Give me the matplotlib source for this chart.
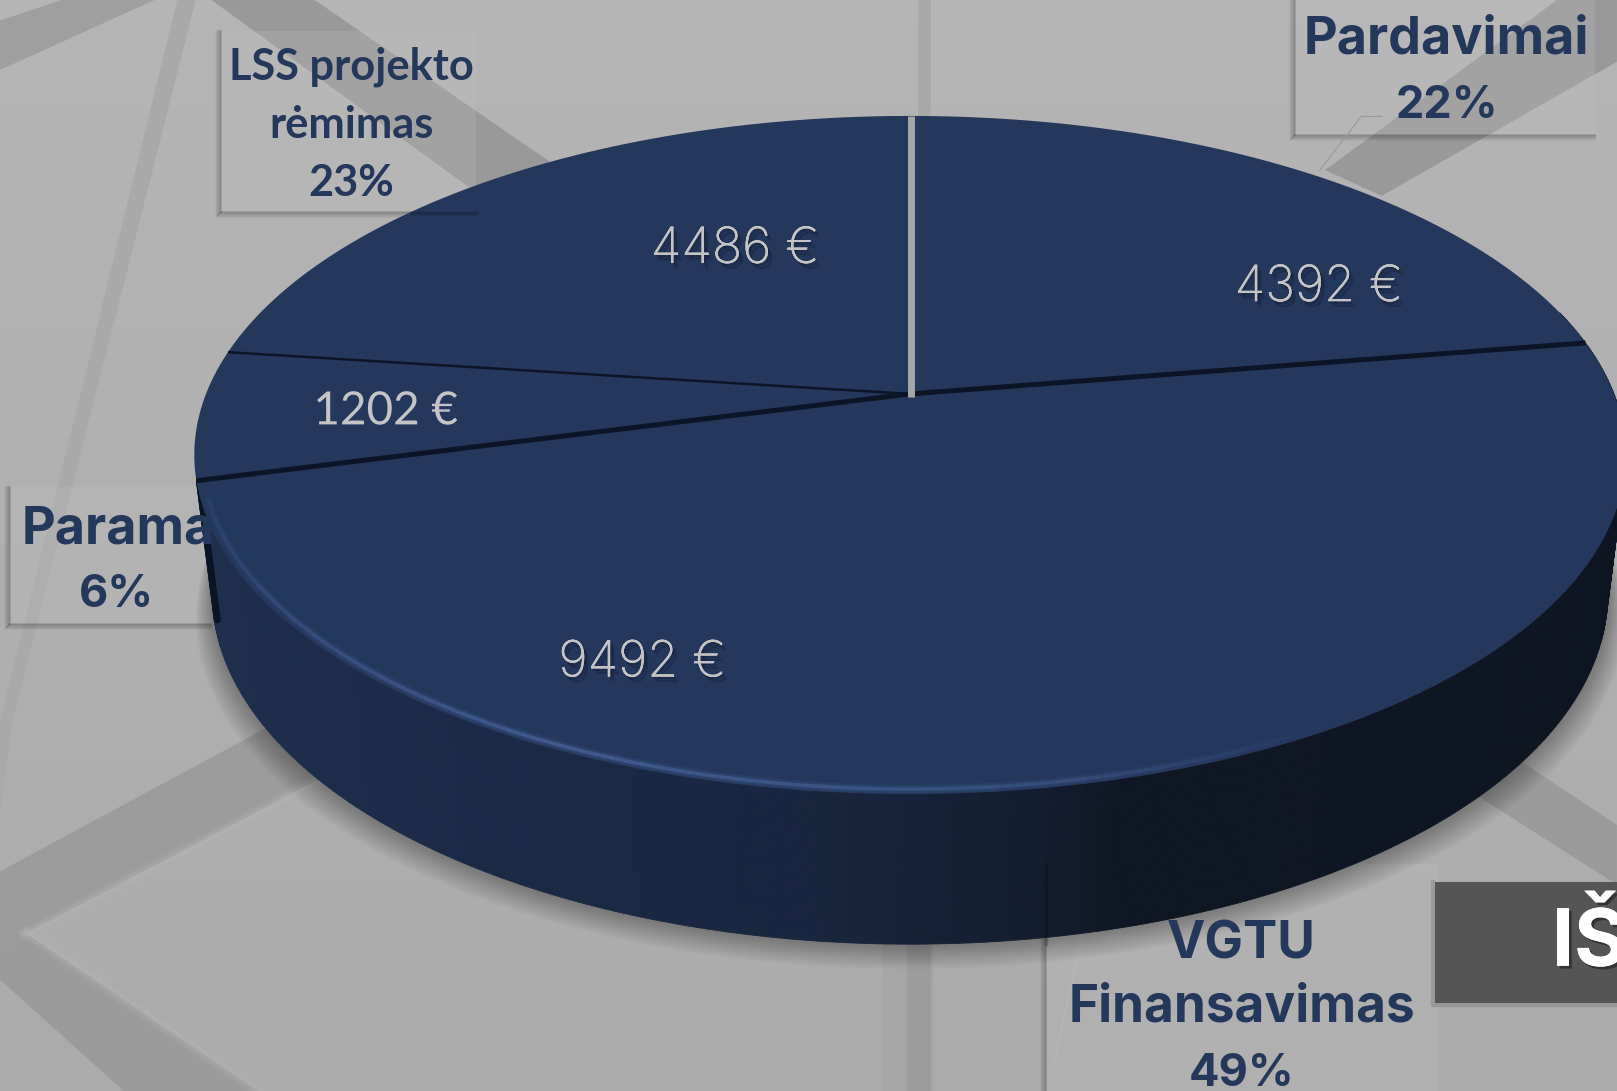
import numpy as np
import matplotlib
matplotlib.use("Agg")
import matplotlib.pyplot as plt
import matplotlib.patheffects as pe
from matplotlib.collections import PolyCollection, LineCollection
from matplotlib.colors import LinearSegmentedColormap

# Slices, clockwise from the top of the pie
names = ["Pardavimai", "VGTU\nFinansavimas", "Parama", "LSS projekto\nrėmimas"]
values = [4392, 9492, 1202, 4486]
percents = ["22%", "49%", "6%", "23%"]
value_labels = ["4392 €", "9492 €", "1202 €", "4486 €"]

NAVY = "#24385c"
W, H = 1617, 1091

fig = plt.figure(figsize=(W / 100, H / 100 + 0.001), dpi=100)
ax = fig.add_axes([0, 0, 1, 1])
ax.axis("off")

# Perspective of the pie top (angles in degrees, clockwise from top)
CX, CY, A, B, K = 910, 394, 704, 328, 0.18
DEPTH = 136


def top(theta, r=1.0):
    t = np.radians(theta)
    u, v = r * np.sin(t), r * np.cos(t)
    w = 1 + K * v
    return CX + A * u / w, CY - B * v / w


def bottom(theta):
    t = np.radians(theta)
    u, v = np.sin(t), np.cos(t)
    w = 1 + K * v
    return CX + 0.975 * A * u / w, CY - B * v / w + DEPTH / np.sqrt(w)


# background
ax.imshow(np.linspace(0, 1, 50).reshape(-1, 1), extent=(0, W, H, 0), aspect="auto",
          cmap=LinearSegmentedColormap.from_list("bg", ["#b5b5b5", "#ababab"]), zorder=0)
ax.set_xlim(0, W)
ax.set_ylim(H, 0)

s = 1.0312  # positions below were read on the shrunk picture
bands = [
    ([(0, 20), (60, 0), (150, 0), (0, 68)], "#9f9f9f"),
    ([(172, 0), (190, 0), (12, 700), (0, 790), (0, 700)], "#a9a9a9"),
    ([(205, 0), (305, 0), (545, 165), (480, 200)], "#999999"),
    ([(890, 0), (903, 0), (903, 120), (890, 120)], "#a9a9a9"),
    ([(1285, 165), (1510, 0), (1568, 0), (1568, 60), (1340, 190)], "#999999"),
    ([(0, 845), (260, 705), (320, 750), (25, 905), (0, 925)], "#9c9c9c"),
    ([(25, 905), (250, 1058), (120, 1058), (0, 950), (0, 925)], "#9b9b9b"),
    ([(1470, 735), (1568, 800), (1568, 858), (1430, 770)], "#9b9b9b"),
    ([(855, 900), (905, 900), (905, 1058), (855, 1058)], "#a6a6a6"),
    ([(880, 900), (903, 900), (903, 1058), (880, 1058)], "#9d9d9d"),
]
for pts, col in bands:
    ax.fill(*zip(*[(x * s, y * s) for x, y in pts]), color=col, lw=0, zorder=1)
for lw, alpha in [(9, 0.12), (5, 0.2)]:
    ax.plot([25 * s, 305 * s], [905 * s, 758 * s], color="#bababa", lw=lw, alpha=alpha, zorder=1)
    ax.plot([25 * s, 250 * s], [905 * s, 1058 * s], color="#bababa", lw=lw, alpha=alpha, zorder=1)

# label boxes, left and bottom edges carry the shadow
boxes = [(1256, 0, 1547, 131), (1014, 838, 1395, 1070), (10, 472, 205, 605), (214, 30, 462, 206)]
for x0, y0, x1, y1 in boxes:
    x0, y0, x1, y1 = x0 * s, y0 * s, x1 * s, y1 * s
    ax.fill([x0, x1, x1, x0], [y0, y0, y1, y1], color="#c4c4c4", alpha=0.22, lw=0, zorder=2)
    for i in range(6):
        ax.plot([x0 - i, x0 - i], [y0, y1 + i], color="k", alpha=0.16 - i * 0.025, lw=1.2, zorder=2)
        ax.plot([x0 - i, x1], [y1 + i, y1 + i], color="k", alpha=0.16 - i * 0.025, lw=1.2, zorder=2)

ax.plot([1340 * s, 1320 * s, 1280 * s], [113 * s, 113 * s, 165 * s], color="#999999", lw=0.8, zorder=2)
ax.plot([1050 * s, 1022 * s], [905 * s, 1030 * s], color="#b8b8b8", lw=0.8, zorder=2)

# angles of slice borders from the values
edges = np.concatenate([[0], np.cumsum(values)]) / np.sum(values) * 360

# soft shadow under the pie
around = np.linspace(0, 360, 361)
bx, by = bottom(around)
for i in range(14):
    f = 1 + i * 0.0018
    ax.fill(CX + (bx - CX) * f, by + i * 1.9, color="k", alpha=0.022, lw=0, zorder=3)

# side wall: from the left seam round the front to the right
side_cmap = LinearSegmentedColormap.from_list(
    "side", [(0, "#0c1420"), (0.5, "#0f1724"), (0.53, "#131d30"), (0.62, "#18263f"),
             (0.8, "#1b2b48"), (1, "#1f3050")])
side_angles = np.linspace(75, edges[2], 260)
strips = []
for a0, a1 in zip(side_angles[:-1], side_angles[1:]):
    t0, t1 = top(a0), top(a1)
    b0, b1 = bottom(a0), bottom(a1)
    strips.append([t0, t1, b1, b0])
frac = np.linspace(0, 1, len(strips))
ax.add_collection(PolyCollection(strips, facecolors=side_cmap(frac), edgecolors=side_cmap(frac),
                                 linewidths=0.6, zorder=4))

# dark cut face at the left seam
seam_t, seam_b = top(edges[2]), bottom(edges[2])
ax.plot([seam_t[0] + 3, seam_b[0] + 3], [seam_t[1], seam_b[1]], color="#0b1424", lw=5,
        solid_capstyle="round", zorder=5)

# top face, one polygon per slice
for a0, a1 in zip(edges[:-1], edges[1:]):
    th = np.linspace(a0, a1, 200)
    x, y = top(th)
    ax.fill(np.r_[CX, x], np.r_[CY, y], color=NAVY, lw=0, zorder=6)

# rim highlight along the front of the big slice, with a soft glow
rim_angles = np.linspace(edges[2] - 3, 115, 240)
rx, ry = top(rim_angles, 0.99)
segs = np.stack([np.c_[rx[:-1], ry[:-1]], np.c_[rx[1:], ry[1:]]], axis=1)
rim_cmap = LinearSegmentedColormap.from_list(
    "rim", [(0, "#2a4269"), (0.35, "#405a8e"), (0.6, "#344e7a"), (0.75, "#24385c"), (1, "#24385c")])
rim_colors = rim_cmap(np.linspace(0, 1, len(segs)))
ax.add_collection(LineCollection(segs, colors=rim_colors, linewidths=6, alpha=0.3, zorder=7))
ax.add_collection(LineCollection(segs, colors=rim_colors, linewidths=2.6, zorder=7))

# slice borders
for a in edges[1:3]:
    x, y = top(a)
    ax.plot([CX, x], [CY, y], color="#0b1526", lw=3.6, zorder=8, solid_capstyle="butt")
x, y = top(edges[3])
ax.plot([CX, x], [CY, y], color="#0b1526", lw=1.8, zorder=8, solid_capstyle="butt")
x, y = top(0.0)
ax.plot([CX + 0.5, x + 0.5], [CY + 3, y], color="#a6a6a6", lw=5, zorder=9, solid_capstyle="butt")

# shadow of the box edges falling on the pie
ax.plot([400 * s, 462 * s], [207 * s, 207 * s], color="k", alpha=0.2, lw=2.5, zorder=9)
ax.plot([1014 * s, 1014 * s], [838 * s, 915 * s], color="k", alpha=0.2, lw=2.5, zorder=9)

# names and percentages
name_style = dict(ha="center", va="center", color=NAVY, fontweight="bold", zorder=12, linespacing=1.38)
name_pos = [(1403, 39, 37.5), (1204, 947, 37), (115, 514, 37.5)]
pct_pos = [(1403, 103), (1204, 1041), (113, 577)]
for name, pct, (x, y, size), (px, py) in zip(names, percents, name_pos, pct_pos):
    ax.text(x * s, y * s, name, family="Inter", fontsize=size, **name_style)
    ax.text(px * s, py * s, pct, family="Inter", fontsize=32.5, **name_style)
ax.text(341 * s, 121 * s, names[3] + "\n" + percents[3], family="Lato", fontsize=31.2,
        ha="center", va="center", color=NAVY, fontweight="bold", zorder=12, linespacing=1.55)

# values on the slices
shadow = [pe.withSimplePatchShadow(offset=(3, -4), shadow_rgbFace="k", alpha=0.18),
          pe.withSimplePatchShadow(offset=(1.5, -2), shadow_rgbFace="k", alpha=0.2), pe.Normal()]
value_pos = [(1279, 279, "Inter", 36, "light"), (623, 643, "Inter", 36, "light"),
             (374, 399, "Lato", 33, "normal"), (713, 242, "Inter", 36, "light")]
for lab, (x, y, fam, size, weight) in zip(value_labels, value_pos):
    ax.text(x * s, y * s, lab, family=fam, fontsize=size, fontweight=weight, ha="center", va="center",
            color="#c4c4c4", zorder=12, path_effects=shadow if fam == "Inter" else [pe.Normal()])

# dark title box cut by the picture edge
ax.fill([1392 * s, W, W, 1392 * s], [855 * s, 855 * s, 973 * s, 973 * s], color="#555555", lw=0, zorder=10)
ax.plot([1392 * s - 2, 1392 * s - 2, W], [855 * s, 975 * s, 975 * s], color="k", alpha=0.12, lw=3, zorder=10)
ax.text(1505 * s, 915 * s, "IŠ", family="Inter", fontsize=57, fontweight="bold", color="white",
        ha="left", va="center", zorder=12, clip_on=True,
        path_effects=[pe.withSimplePatchShadow(offset=(2, -2), shadow_rgbFace="k", alpha=0.4), pe.Normal()])

fig.savefig("out.png", dpi=100)
